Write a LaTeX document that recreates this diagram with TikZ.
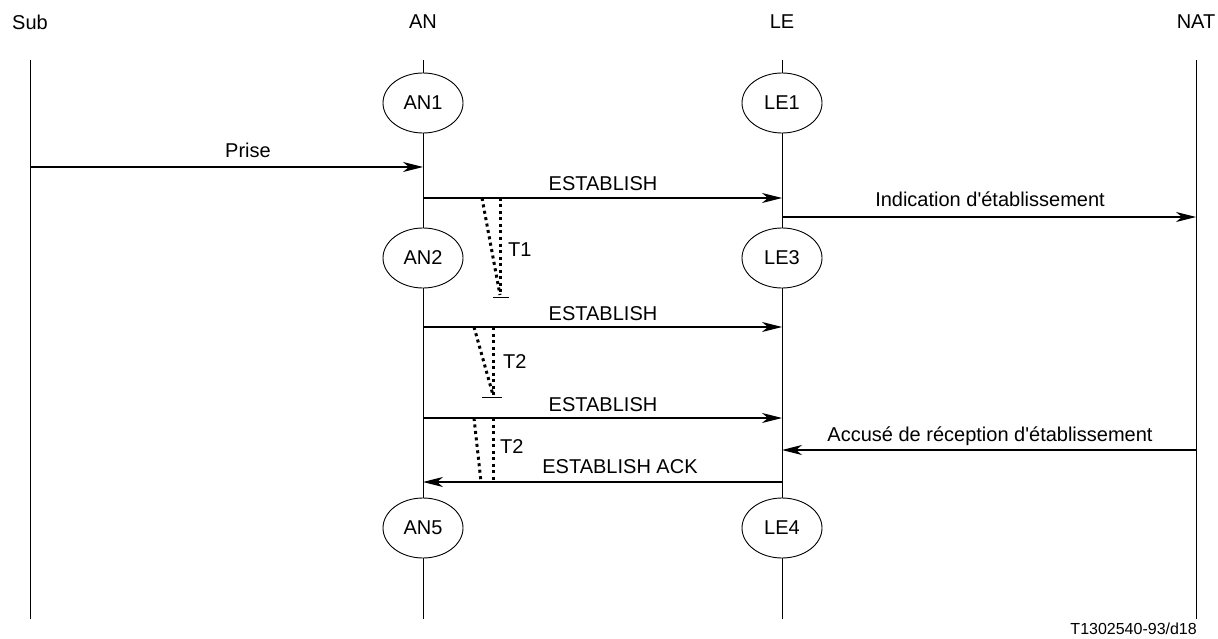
\documentclass[tikz,border=0pt]{standalone}
\usepackage{fontspec}
\setmainfont{Liberation Sans}[Ligatures=TeXOff]
\usetikzlibrary{arrows.meta,shapes.geometric}
\begin{document}
\begin{tikzpicture}[x=1pt,y=-1pt,
  lbl/.style={font=\fontsize{20}{24}\selectfont, inner sep=0pt},
  state/.style={ellipse, draw, line width=0.9pt, fill=white, minimum width=80pt, minimum height=60pt, inner sep=0pt, font=\fontsize{20}{24}\selectfont},
  life/.style={line width=0.9pt},
  msg/.style={line width=1.2pt, -{Stealth[length=20pt,width=10pt,inset=6pt]}},
  tmr/.style={line width=3pt, dash pattern=on 3pt off 3.5pt},
  tick/.style={line width=1pt}]
\useasboundingbox (0,0) rectangle (1218,639);
% headers
\node[lbl] (hSub) at (30,22) {Sub};
\node[lbl] (hAN) at (423,22) {AN};
\node[lbl] (hLE) at (782,22) {LE};
\node[lbl] (hNAT) at (1196,22) {NAT};
% lifelines
\coordinate (subT) at (30,60); \coordinate (subB) at (30,619);
\coordinate (anT) at (423,60); \coordinate (anB) at (423,619);
\coordinate (leT) at (782,60); \coordinate (leB) at (782,619);
\coordinate (natT) at (1196,60); \coordinate (natB) at (1196,619);
\draw[life] (subT) -- (subB);
\draw[life] (anT) -- (anB);
\draw[life] (leT) -- (leB);
\draw[life] (natT) -- (natB);
% states
\node[state] (AN1) at (423,103) {AN1};
\node[state] (LE1) at (782,103) {LE1};
\node[state] (AN2) at (423,258) {AN2};
\node[state] (LE3) at (782,258) {LE3};
\node[state] (AN5) at (423,528) {AN5};
\node[state] (LE4) at (782,528) {LE4};
% message endpoints
\coordinate (m1a) at (30,167);  \coordinate (m1b) at (423,167);
\coordinate (m2a) at (423,198); \coordinate (m2b) at (782,198);
\coordinate (m3a) at (782,217); \coordinate (m3b) at (1196,217);
\coordinate (m4a) at (423,327); \coordinate (m4b) at (782,327);
\coordinate (m5a) at (423,418); \coordinate (m5b) at (782,418);
\coordinate (m6a) at (1196,450); \coordinate (m6b) at (782,450);
\coordinate (m7a) at (782,482); \coordinate (m7b) at (423,482);
\draw[msg] (m1a) -- (m1b);
\draw[msg] (m2a) -- (m2b);
\draw[msg] (m3a) -- (m3b);
\draw[msg] (m4a) -- (m4b);
\draw[msg] (m5a) -- (m5b);
\draw[msg] (m6a) -- (m6b);
\draw[msg] (m7a) -- (m7b);
\node[lbl, anchor=base] (l1) at (248,158) {Prise};
\node[lbl, anchor=base] (l2) at (603,191) {ESTABLISH};
\node[lbl, anchor=base] (l3) at (990,207) {Indication d'établissement};
\node[lbl, anchor=base] (l4) at (603,320) {ESTABLISH};
\node[lbl, anchor=base] (l5) at (603,411) {ESTABLISH};
\node[lbl, anchor=base] (l6) at (990,441) {Accusé de réception d'établissement};
\node[lbl, anchor=base] (l7) at (620,473) {ESTABLISH ACK};
% timers
\coordinate (t1a) at (482,198); \coordinate (t1b) at (500,198); \coordinate (t1e) at (500,295);
\coordinate (t1l) at (493,297); \coordinate (t1r) at (509,297);
\draw[tmr] (t1a) -- (t1e);
\draw[tmr] (t1b) -- (t1e);
\draw[tick] (t1l) -- (t1r);
\node[lbl, anchor=west] (T1) at (508,250) {T1};
\coordinate (t2a) at (474,327); \coordinate (t2b) at (493,327); \coordinate (t2e) at (493,395);
\coordinate (t2l) at (482,397); \coordinate (t2r) at (502,397);
\draw[tmr] (t2a) -- (t2e);
\draw[tmr] (t2b) -- (t2e);
\draw[tick] (t2l) -- (t2r);
\node[lbl, anchor=west] (T2a) at (503,362) {T2};
\coordinate (t3a) at (474,418); \coordinate (t3e) at (481,482);
\coordinate (t3b) at (493,418); \coordinate (t3f) at (493,482);
\draw[tmr] (t3a) -- (t3e);
\draw[tmr] (t3b) -- (t3f);
\node[lbl, anchor=west] (T2b) at (500,447) {T2};
% reference
\node[font=\fontsize{16}{19}\selectfont, inner sep=0pt, anchor=base east] (ref) at (1197,634) {T1302540-93/d18};
\end{tikzpicture}
\end{document}
